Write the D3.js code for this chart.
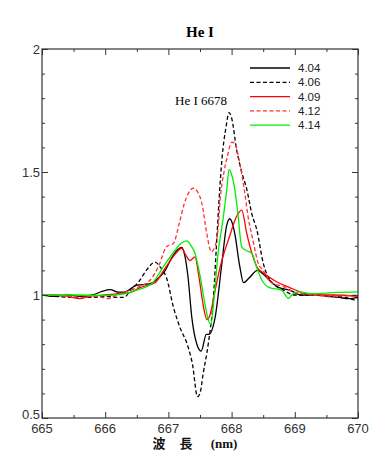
<!DOCTYPE html>
<html><head><meta charset="utf-8">
<script src="https://cdn.jsdelivr.net/npm/d3@7"></script>
<style>body{margin:0;background:#fff}</style>
</head><body><svg id="c" width="391" height="475"></svg>
<script>
const seriesNames = ["4.04","4.06","4.09","4.12","4.14"];
const seriesColors = ["#000000","#000000","#ff0000","#ff3030","#00ee00"];
const seriesDashed = [false,true,false,true,false];
const xTicks = [665,666,667,668,669,670];
const yTicks = [0.5,1,1.5,2];

const s404 = [[665.0,1.0],[665.2,0.995],[665.4,1.0],[665.6,0.995],[665.8,1.0],[665.95,1.015],[666.08,1.022],[666.2,1.012],[666.3,1.012],[666.5,1.04],[666.7,1.045],[666.85,1.07],[666.95,1.1],[667.05,1.15],[667.15,1.185],[667.21,1.194],[667.26,1.16],[667.31,1.074],[667.37,0.91],[667.45,0.8],[667.52,0.772],[667.6,0.84],[667.64,0.84],[667.74,0.91],[667.84,1.115],[667.92,1.28],[667.97,1.31],[668.0,1.3],[668.05,1.25],[668.13,1.115],[668.19,1.05],[668.28,1.07],[668.41,1.1],[668.5,1.085],[668.6,1.06],[668.75,1.03],[668.92,1.02],[669.1,1.0],[669.3,1.0],[669.5,0.995],[669.7,0.99],[669.85,0.985],[670.0,0.99]];
const s406 = [[665.0,1.0],[665.2,0.995],[665.5,0.99],[665.8,0.99],[666.0,0.995],[666.2,0.99],[666.3,0.99],[666.4,1.02],[666.52,1.05],[666.65,1.1],[666.79,1.134],[666.88,1.11],[666.97,1.07],[667.08,0.95],[667.18,0.87],[667.31,0.79],[667.38,0.72],[667.46,0.587],[667.5,0.6],[667.55,0.68],[667.63,0.8],[667.71,0.98],[667.76,1.2],[667.8,1.38],[667.85,1.56],[667.91,1.68],[667.96,1.741],[668.0,1.72],[668.08,1.59],[668.16,1.5],[668.24,1.43],[668.32,1.33],[668.4,1.264],[668.5,1.13],[668.61,1.06],[668.82,1.02],[669.0,1.0],[669.3,1.0],[669.6,0.995],[669.8,0.99],[669.95,0.98],[670.0,0.985]];
const s409 = [[665.0,1.0],[665.2,1.0],[665.4,0.995],[665.6,0.985],[665.75,0.995],[666.0,1.0],[666.2,1.005],[666.39,1.01],[666.55,1.03],[666.79,1.05],[666.9,1.09],[667.03,1.14],[667.12,1.17],[667.21,1.19],[667.28,1.16],[667.34,1.14],[667.42,1.155],[667.48,1.08],[667.55,0.96],[667.61,0.9],[667.66,0.92],[667.74,1.02],[667.82,1.115],[667.97,1.24],[668.08,1.32],[668.16,1.345],[668.24,1.25],[668.32,1.17],[668.4,1.115],[668.5,1.09],[668.71,1.054],[668.92,1.03],[669.08,1.013],[669.3,1.0],[669.6,1.0],[670.0,0.995]];
const s412 = [[665.0,1.0],[665.2,1.0],[665.4,0.995],[665.6,0.99],[665.8,0.995],[665.95,0.99],[666.05,0.985],[666.15,0.995],[666.3,1.01],[666.5,1.03],[666.71,1.06],[666.85,1.12],[666.97,1.196],[667.08,1.21],[667.18,1.3],[667.25,1.37],[667.31,1.41],[667.39,1.434],[667.46,1.42],[667.54,1.36],[667.6,1.26],[667.68,1.176],[667.74,1.2],[667.79,1.28],[667.82,1.39],[667.88,1.5],[667.93,1.56],[668.0,1.62],[668.04,1.62],[668.13,1.535],[668.2,1.43],[668.26,1.32],[668.34,1.22],[668.42,1.13],[668.5,1.1],[668.61,1.054],[668.82,1.034],[669.0,1.01],[669.3,1.0],[669.6,0.995],[670.0,1.0]];
const s414 = [[665.0,1.0],[665.3,1.0],[665.6,1.0],[666.0,0.998],[666.3,1.005],[666.5,1.02],[666.75,1.05],[666.92,1.115],[667.1,1.18],[667.2,1.21],[667.29,1.22],[667.36,1.2],[667.42,1.17],[667.5,1.08],[667.58,0.96],[667.63,0.9],[667.67,0.88],[667.72,0.98],[667.79,1.18],[667.86,1.3],[667.92,1.42],[667.96,1.51],[668.0,1.49],[668.05,1.43],[668.1,1.33],[668.16,1.196],[668.24,1.18],[668.32,1.17],[668.4,1.11],[668.48,1.06],[668.6,1.03],[668.79,1.02],[668.85,1.0],[668.9,0.986],[668.95,1.0],[669.05,1.013],[669.3,1.005],[669.6,1.01],[670.0,1.013]];
const seriesData = [s404,s406,s409,s412,s414];

const svg = d3.select("#c");
const L=42,R=358,T=49,B=418;
const x = d3.scaleLinear().domain([665,670]).range([L,R]);
const y = d3.scaleLinear().domain([0.5,2]).range([B,T]);

const line = d3.line().x(d=>x(d[0])).y(d=>y(d[1])).curve(d3.curveMonotoneX);
svg.append("defs").append("clipPath").attr("id","cp").append("rect").attr("x",L).attr("y",T).attr("width",R-L).attr("height",B-T);
const g = svg.append("g").attr("clip-path","url(#cp)");
seriesData.forEach((d,i)=>{
  g.append("path").datum(d).attr("d",line).attr("fill","none")
   .attr("stroke",seriesColors[i]).attr("stroke-width",1.3)
   .attr("stroke-dasharray",seriesDashed[i]?"4,2.5":null);
});

// frame
svg.append("rect").attr("x",L).attr("y",T).attr("width",R-L).attr("height",B-T)
  .attr("fill","none").attr("stroke","#333").attr("stroke-width",1.2);

const minorX = d3.range(665.5,670,1);
const minorY = d3.range(0.6,2.0,0.1).filter(v=>Math.abs(v*2-Math.round(v*2))>0.01);
function tickAxis(axisFn, scale, vals, size, tf){
  const a = svg.append("g").attr("transform",tf)
    .call(axisFn(scale).tickValues(vals).tickSize(size).tickFormat(""));
  a.select(".domain").remove();
  a.selectAll("line").attr("stroke","#333");
}
tickAxis(d3.axisBottom,x,xTicks,-6,`translate(0,${B})`);
tickAxis(d3.axisBottom,x,minorX,-3,`translate(0,${B})`);
tickAxis(d3.axisTop,x,xTicks,-6,`translate(0,${T})`);
tickAxis(d3.axisTop,x,minorX,-3,`translate(0,${T})`);
tickAxis(d3.axisLeft,y,yTicks,-6,`translate(${L},0)`);
tickAxis(d3.axisLeft,y,minorY,-3,`translate(${L},0)`);
tickAxis(d3.axisRight,y,yTicks,-6,`translate(${R},0)`);
tickAxis(d3.axisRight,y,minorY,-3,`translate(${R},0)`);

// tick labels
const lab = svg.append("g").attr("font-family","'Liberation Sans',Arial,sans-serif").attr("font-size",13).attr("fill","#333");
xTicks.forEach(v=>lab.append("text").attr("x",x(v)).attr("y",B+15).attr("text-anchor","middle").text(v));
yTicks.forEach(v=>lab.append("text").attr("x",L-2).attr("y",y(v)+(v===0.5?1:5)).attr("text-anchor","end").text(v));

// title
svg.append("text").attr("x",200).attr("y",37).attr("text-anchor","middle")
  .attr("font-family","'Liberation Serif','Times New Roman',serif").attr("font-weight","bold").attr("font-size",15).text("He I");
svg.append("text").attr("x",175).attr("y",105)
  .attr("font-family","'Liberation Serif','Times New Roman',serif").attr("font-size",13).text("He I 6678");

// x axis title
const at = svg.append("g").attr("font-weight","bold").attr("font-size",13).attr("fill","#111");
at.append("text").attr("x",159).attr("y",448).attr("text-anchor","middle").attr("font-family","'Noto Sans CJK JP',sans-serif").text("波");
at.append("text").attr("x",186).attr("y",448).attr("text-anchor","middle").attr("font-family","'Noto Sans CJK JP',sans-serif").text("長");
at.append("text").attr("x",224).attr("y",448).attr("text-anchor","middle").attr("font-family","'Liberation Serif','Times New Roman',serif").text("(nm)");

// legend
const leg = svg.append("g");
seriesNames.forEach((n,i)=>{
  const yy = 68 + i*14.3;
  leg.append("line").attr("x1",250).attr("x2",290).attr("y1",yy).attr("y2",yy)
    .attr("stroke",seriesColors[i]).attr("stroke-width",1.3).attr("stroke-dasharray",seriesDashed[i]?"4,2.5":null);
  leg.append("text").attr("x",298).attr("y",yy+4).attr("font-family","'Liberation Sans',Arial,sans-serif").attr("font-size",11.5).attr("fill","#222").text(n);
});
</script></body></html>
